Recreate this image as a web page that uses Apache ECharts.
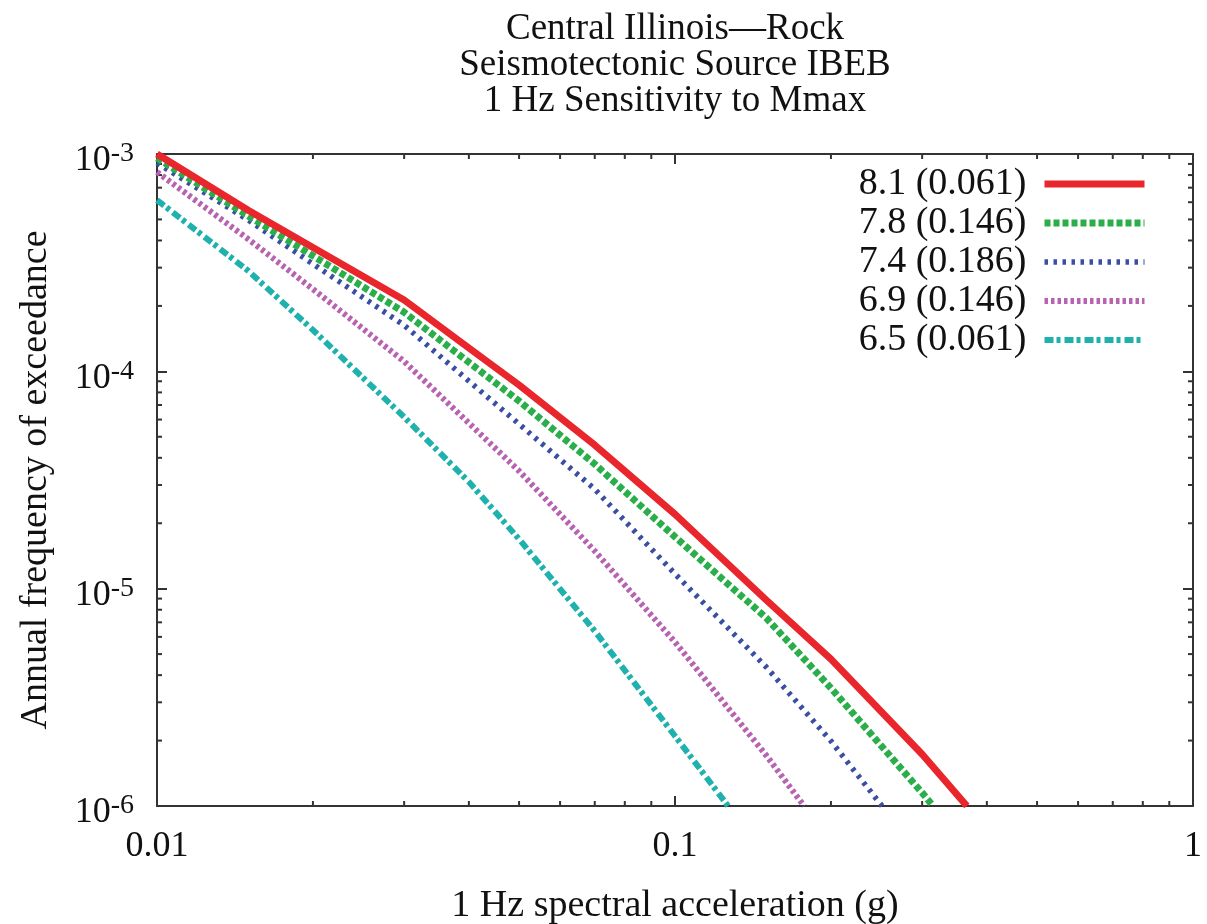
<!DOCTYPE html>
<html>
<head>
<meta charset="utf-8">
<script src="https://cdn.jsdelivr.net/npm/echarts@6/dist/echarts.min.js"></script>
<style>
html,body{margin:0;padding:0;background:#fff;}
#chart{width:1207px;height:924px;}
</style>
</head>
<body>
<div id="chart"></div>
<script>
// ---- Data ----
const titleLines = ['Central Illinois\u2014Rock', 'Seismotectonic Source IBEB', '1 Hz Sensitivity to Mmax'];
const xAxisTitle = '1 Hz spectral acceleration (g)';
const yAxisTitle = 'Annual frequency of exceedance';
const seriesNames = ['8.1 (0.061)', '7.8 (0.146)', '7.4 (0.186)', '6.9 (0.146)', '6.5 (0.061)'];

const x81 = [0.01, 0.015, 0.02, 0.03, 0.04, 0.05, 0.07, 0.1, 0.15, 0.2, 0.3, 0.366];
const y81 = [1.0e-3, 5.51e-4, 3.71e-4, 2.13e-4, 1.28e-4, 8.65e-5, 4.58e-5, 2.20e-5, 8.87e-6, 4.74e-6, 1.73e-6, 1.0e-6];

const x78 = [0.01, 0.015, 0.02, 0.03, 0.04, 0.05, 0.07, 0.1, 0.15, 0.2, 0.3, 0.315];
const y78 = [9.58e-4, 5.19e-4, 3.40e-4, 1.87e-4, 1.10e-4, 7.30e-5, 3.74e-5, 1.73e-5, 7.33e-6, 3.49e-6, 1.15e-6, 1.0e-6];

const x74 = [0.01, 0.015, 0.02, 0.03, 0.04, 0.05, 0.07, 0.1, 0.15, 0.2, 0.251];
const y74 = [9.09e-4, 4.97e-4, 3.12e-4, 1.63e-4, 9.02e-5, 5.72e-5, 2.87e-5, 1.17e-5, 4.36e-6, 1.99e-6, 1.0e-6];

const x69 = [0.01, 0.015, 0.02, 0.03, 0.04, 0.05, 0.07, 0.1, 0.15, 0.1775];
const y69 = [8.26e-4, 4.06e-4, 2.39e-4, 1.11e-4, 5.78e-5, 3.48e-5, 1.49e-5, 5.68e-6, 1.71e-6, 1.0e-6];

const x65 = [0.01, 0.015, 0.02, 0.03, 0.04, 0.05, 0.07, 0.1, 0.1266];
const y65 = [6.14e-4, 2.90e-4, 1.55e-4, 6.16e-5, 3.10e-5, 1.69e-5, 6.38e-6, 2.10e-6, 1.0e-6];

const xMin = 0.01, xMax = 1;
const yMin = 1e-6, yMax = 1e-3;
const xMinorTicks = [0.02,0.03,0.04,0.05,0.06,0.07,0.08,0.09,0.2,0.3,0.4,0.5,0.6,0.7,0.8,0.9];
const yMinorTicks = [2e-6,3e-6,4e-6,5e-6,6e-6,7e-6,8e-6,9e-6,2e-5,3e-5,4e-5,5e-5,6e-5,7e-5,8e-5,9e-5,2e-4,3e-4,4e-4,5e-4,6e-4,7e-4,8e-4,9e-4];

// ---- Styles ----
const FONT = '"Liberation Serif", "DejaVu Serif", serif';
const colors = ['#e8262b', '#2aae4a', '#3a4fa3', '#b763b2', '#1fb1ae'];
const widths = [7, 7, 5.5, 6, 6];
const dashes = ['solid', [6, 3], [3.5, 5.5], [3.5, 3], [9, 3, 4, 4]];

const xs = [x81, x78, x74, x69, x65];
const ys = [y81, y78, y74, y69, y65];

const chart = echarts.init(document.getElementById('chart'), null, {renderer: 'canvas'});

function pairs(a, b) { return a.map((v, i) => [v, b[i]]); }

const lineSeries = seriesNames.map((name, i) => ({
  name: name,
  type: 'line',
  data: pairs(xs[i], ys[i]),
  xAxisIndex: 0, yAxisIndex: 0,
  showSymbol: false,
  symbol: 'none',
  smooth: false,
  clip: true,
  color: colors[i],
  lineStyle: {color: colors[i], width: widths[i], type: dashes[i], cap: 'butt'},
  z: 10 - i
}));

const tickLen = 5;
const xTickSeries = {
  type: 'custom', silent: true, clip: false, z: 1,
  xAxisIndex: 0, yAxisIndex: 0,
  data: xMinorTicks.map(v => [v, yMin]),
  renderItem: function (params, api) {
    const v = api.value(0);
    const b = api.coord([v, yMin]);
    const t = api.coord([v, yMax]);
    return {type: 'group', children: [
      {type: 'line', shape: {x1: b[0], y1: b[1], x2: b[0], y2: b[1] - tickLen}, style: {stroke: '#333', lineWidth: 2}},
      {type: 'line', shape: {x1: t[0], y1: t[1], x2: t[0], y2: t[1] + tickLen}, style: {stroke: '#333', lineWidth: 2}}
    ]};
  }
};
const yTickSeries = {
  type: 'custom', silent: true, clip: false, z: 1,
  xAxisIndex: 0, yAxisIndex: 0,
  data: yMinorTicks.map(v => [xMin, v]),
  renderItem: function (params, api) {
    const v = api.value(1);
    const l = api.coord([xMin, v]);
    const r = api.coord([xMax, v]);
    return {type: 'group', children: [
      {type: 'line', shape: {x1: l[0], y1: l[1], x2: l[0] + tickLen, y2: l[1]}, style: {stroke: '#333', lineWidth: 2}},
      {type: 'line', shape: {x1: r[0], y1: r[1], x2: r[0] - tickLen, y2: r[1]}, style: {stroke: '#333', lineWidth: 2}}
    ]};
  }
};

const axisLine = {show: true, lineStyle: {color: '#333', width: 2}};
const majorTick = {show: true, inside: true, length: 10, lineStyle: {color: '#333', width: 2}};

function supLabel(v) {
  const e = Math.round(Math.log10(v));
  return '{b|10}{s|' + e + '}';
}

const option = {
  backgroundColor: '#fff',
  animation: false,
  graphic: titleLines.map((t, i) => ({
    type: 'text', x: 675, y: 29 + i * 36,
    style: {text: t, fill: '#111', font: '37px ' + FONT, textAlign: 'center', textVerticalAlign: 'middle'}
  })),
  grid: {left: 157, right: 14, top: 154, bottom: 118, containLabel: false, outerBoundsMode: 'none'},
  legend: {
    data: seriesNames,
    orient: 'vertical',
    right: 59, top: 165,
    padding: 0,
    align: 'right',
    itemWidth: 100, itemHeight: 8,
    itemGap: 1,
    itemStyle: {opacity: 0, borderWidth: 0},
    lineStyle: {width: 'inherit', type: 'inherit', cap: 'butt'},
    textStyle: {fontFamily: FONT, fontSize: 38, color: '#111', lineHeight: 37, padding: [0, 13, 0, 0]},
    selectedMode: false
  },
  xAxis: [{
    type: 'log', logBase: 10, min: xMin, max: xMax, position: 'bottom',
    name: xAxisTitle, nameLocation: 'middle', nameGap: 81,
    nameTextStyle: {fontFamily: FONT, fontSize: 38, color: '#111'},
    axisLine: axisLine, axisTick: majorTick, splitLine: {show: false},
    axisLabel: {fontFamily: FONT, fontSize: 36, color: '#111', margin: 23,
      formatter: v => String(v)}
  }, {
    type: 'log', logBase: 10, min: xMin, max: xMax, position: 'top',
    axisLine: axisLine, axisTick: majorTick, splitLine: {show: false},
    axisLabel: {show: false}
  }],
  yAxis: [{
    type: 'log', logBase: 10, min: yMin, max: yMax, position: 'left',
    name: yAxisTitle, nameLocation: 'middle', nameGap: 102, nameRotate: 90,
    nameTextStyle: {fontFamily: FONT, fontSize: 38, color: '#111'},
    axisLine: axisLine, axisTick: majorTick, splitLine: {show: false},
    axisLabel: {margin: 23, color: '#111', formatter: supLabel, padding: [14, 0, 0, 0],
      rich: {
        b: {fontFamily: FONT, fontSize: 36, color: '#111', verticalAlign: 'bottom', lineHeight: 36},
        s: {fontFamily: FONT, fontSize: 28, color: '#111', verticalAlign: 'bottom', lineHeight: 36, padding: [0, 0, 11, 0]}
      }}
  }, {
    type: 'log', logBase: 10, min: yMin, max: yMax, position: 'right',
    axisLine: axisLine, axisTick: majorTick, splitLine: {show: false},
    axisLabel: {show: false}
  }],
  series: lineSeries.concat([xTickSeries, yTickSeries])
};
chart.setOption(option);
</script>
</body>
</html>
